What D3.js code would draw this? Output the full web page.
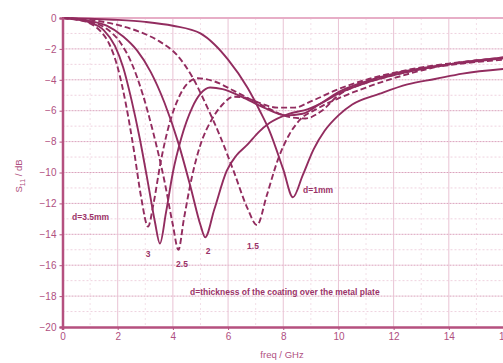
<!doctype html>
<html>
  <head>
    <script src="https://d3js.org/d3.v7.min.js" charset="utf-8"></script>
    <style>
      body { margin: 0; background: #fff; }
      text { font-family: "Liberation Sans", Arial, sans-serif; }
    </style>
  </head>
  <body>
    <script>

// values: [freq GHz, S11 dB]
var d35 = [[0,0],[0.5,-0.1],[1.0,-0.35],[1.4,-0.9],[1.7,-1.7],[2.0,-3.2],[2.3,-5.6],[2.6,-8.7],[2.85,-11.6],[3.1,-13.5],
  [3.3,-12.0],[3.55,-9.4],[3.85,-7.0],[4.2,-5.2],[4.55,-4.2],[4.9,-3.9],[5.5,-4.1],[6.2,-4.7],[7.0,-5.4],[7.8,-5.8],
  [8.4,-5.8],[9.0,-5.4],[10,-4.6],[11,-4.0],[12,-3.55],[13,-3.2],[14,-2.95],[15,-2.75],[16,-2.55]];
var d30 = [[0,0],[0.5,-0.1],[1.0,-0.3],[1.5,-0.8],[1.9,-1.8],[2.2,-3.2],[2.5,-5.3],[2.8,-7.8],[3.1,-10.7],[3.35,-13.2],[3.53,-14.6],
  [3.75,-12.6],[4.0,-10.0],[4.3,-7.8],[4.7,-5.8],[5.0,-4.9],[5.35,-4.5],[5.8,-4.6],[6.5,-5.1],[7.3,-5.8],[8.1,-6.3],
  [8.7,-6.2],[9.3,-5.6],[10,-4.8],[11,-4.1],[12,-3.6],[13,-3.25],[14,-3.0],[15,-2.8],[16,-2.6]];
var d25 = [[0,0],[0.5,-0.08],[1,-0.25],[1.6,-0.7],[2.1,-1.6],[2.5,-2.9],[2.9,-4.9],[3.3,-7.5],[3.7,-10.6],[4.0,-13.4],[4.2,-15.0],
  [4.4,-13.0],[4.7,-10.2],[5.0,-8.2],[5.4,-6.6],[5.8,-5.6],[6.2,-5.1],[6.7,-5.2],[7.4,-5.8],[8.2,-6.4],[8.8,-6.5],
  [9.4,-6.0],[10,-5.0],[11,-4.2],[12,-3.7],[13,-3.3],[14,-3.05],[15,-2.85],[16,-2.7]];
var d20 = [[0,0],[1,-0.2],[1.6,-0.5],[2.2,-1.2],[2.7,-2.1],[3.2,-3.5],[3.7,-5.5],[4.2,-8.1],[4.65,-11.0],[5.0,-13.4],[5.17,-14.2],
  [5.5,-12.4],[5.95,-9.9],[6.3,-8.9],[6.7,-8.2],[7.1,-7.4],[7.5,-6.8],[8.2,-6.2],[8.9,-5.9],[9.5,-5.4],[10,-4.9],
  [11,-4.2],[12,-3.7],[13,-3.3],[14,-3.0],[15,-2.75],[16,-2.55]];
var d15 = [[0,0],[1,-0.12],[2,-0.45],[2.8,-0.9],[3.5,-1.5],[4.15,-2.4],[4.7,-3.8],[5.2,-5.6],[5.7,-7.6],[6.2,-9.9],[6.7,-12.3],[7.05,-13.4],
  [7.4,-11.5],[7.8,-9.2],[8.2,-7.6],[8.6,-6.6],[9.2,-5.9],[10,-5.2],[11,-4.5],[12,-3.9],[13,-3.4],[14,-3.0],[15,-2.75],[16,-2.6]];
var d10 = [[0,0],[1,-0.05],[2,-0.12],[3,-0.25],[4,-0.5],[5,-1.0],[5.5,-1.7],[6.0,-2.7],[6.7,-4.5],[7.15,-6.0],[7.5,-7.3],[8.0,-9.8],[8.35,-11.6],
  [8.7,-10.2],[9.1,-8.5],[9.5,-7.3],[10,-6.3],[10.5,-5.6],[11.5,-4.9],[12.5,-4.3],[13.5,-3.95],[14.5,-3.6],[16,-3.3]];

var series = [d10, d15, d20, d25, d30, d35];
var dashed = [false, true, false, true, false, true];

var xTicks = [0, 2, 4, 6, 8, 10, 12, 14, 16];
var yTicks = [0, -2, -4, -6, -8, -10, -12, -14, -16, -18, -20];

var ink = "#922c5f";
var textCol = "#b0507f";

var svg = d3.select("body").append("svg")
    .attr("width", 503)
    .attr("height", 363);

var x = d3.scaleLinear().domain([0, 16]).range([62.5, 504]);
var y = d3.scaleLinear().domain([-20, 0]).range([327, 18]);

// minor grid
svg.append("g").selectAll("line").data(d3.range(-19, 0, 2))
  .enter().append("line")
    .attr("x1", x(0)).attr("x2", x(16))
    .attr("y1", function(d) { return y(d); }).attr("y2", function(d) { return y(d); })
    .attr("stroke", "#efd2df").attr("stroke-dasharray", "2,2");
svg.append("g").selectAll("line").data(d3.range(1, 16, 2))
  .enter().append("line")
    .attr("y1", y(0)).attr("y2", y(-20))
    .attr("x1", function(d) { return x(d); }).attr("x2", function(d) { return x(d); })
    .attr("stroke", "#f3dfe8").attr("stroke-dasharray", "2,3");

// major grid
svg.append("g").selectAll("line").data(yTicks.slice(1, -1))
  .enter().append("line")
    .attr("x1", x(0)).attr("x2", x(16))
    .attr("y1", function(d) { return y(d); }).attr("y2", function(d) { return y(d); })
    .attr("stroke", "#dba3bd").attr("stroke-dasharray", "2,1");
svg.append("g").selectAll("line").data(xTicks.slice(1, -1))
  .enter().append("line")
    .attr("y1", y(0)).attr("y2", y(-20))
    .attr("x1", function(d) { return x(d); }).attr("x2", function(d) { return x(d); })
    .attr("stroke", "#e9c3d4");

// top border
svg.append("line")
  .attr("x1", x(0)).attr("x2", x(16)).attr("y1", y(0)).attr("y2", y(0))
  .attr("stroke", "#e7aec7").attr("stroke-width", 2);

// curves
var line = d3.line()
  .x(function(d) { return x(d[0]); })
  .y(function(d) { return y(d[1]); })
  .curve(d3.curveMonotoneX);

svg.append("g").selectAll("path").data(series)
  .enter().append("path")
    .attr("d", line)
    .attr("fill", "none")
    .attr("stroke", ink)
    .attr("stroke-width", 1.9)
    .attr("stroke-dasharray", function(d, i) { return dashed[i] ? "6,3" : null; });

// axes
var xAxis = svg.append("g")
  .attr("transform", "translate(0," + y(-20) + ")")
  .call(d3.axisBottom(x).tickValues(xTicks).tickSize(3).tickPadding(3));
var yAxis = svg.append("g")
  .attr("transform", "translate(" + x(0) + ",0)")
  .call(d3.axisLeft(y).tickValues(yTicks).tickSize(3).tickPadding(3));

[xAxis, yAxis].forEach(function(g) {
  g.select(".domain").attr("stroke", "#b5507f").attr("stroke-width", 2.5);
  g.selectAll(".tick line").attr("stroke", "#b5507f");
  g.selectAll("text").attr("fill", textCol).attr("font-size", 10).attr("font-family", "Liberation Sans, Arial, sans-serif");
});

// axis titles
svg.append("text")
  .attr("x", 282).attr("y", 358)
  .attr("text-anchor", "middle")
  .attr("font-size", 9.5)
  .attr("fill", textCol)
  .text("freq / GHz");

var yl = svg.append("text")
  .attr("transform", "translate(22,176) rotate(-90)")
  .attr("text-anchor", "middle")
  .attr("font-size", 9.5)
  .attr("fill", textCol);
yl.append("tspan").text("S");
yl.append("tspan").attr("font-size", 7).attr("dy", 3).text("11");
yl.append("tspan").attr("dy", -3).text(" / dB");

// annotations
var notes = [
  ["d=3.5mm", 72, 220, "start"],
  ["3", 148, 257, "middle"],
  ["2.5", 182, 267, "middle"],
  ["2", 208, 254, "middle"],
  ["1.5", 253, 249, "middle"],
  ["d=1mm", 303, 193, "start"],
  ["d=thickness of the coating over the metal plate", 190, 295, "start"]
];
svg.append("g").selectAll("text").data(notes)
  .enter().append("text")
    .attr("x", function(d) { return d[1]; })
    .attr("y", function(d) { return d[2]; })
    .attr("text-anchor", function(d) { return d[3]; })
    .attr("font-size", 8.5)
    .attr("font-weight", "bold")
    .attr("fill", "#9b3368")
    .text(function(d) { return d[0]; });

    </script>
  </body>
</html>
